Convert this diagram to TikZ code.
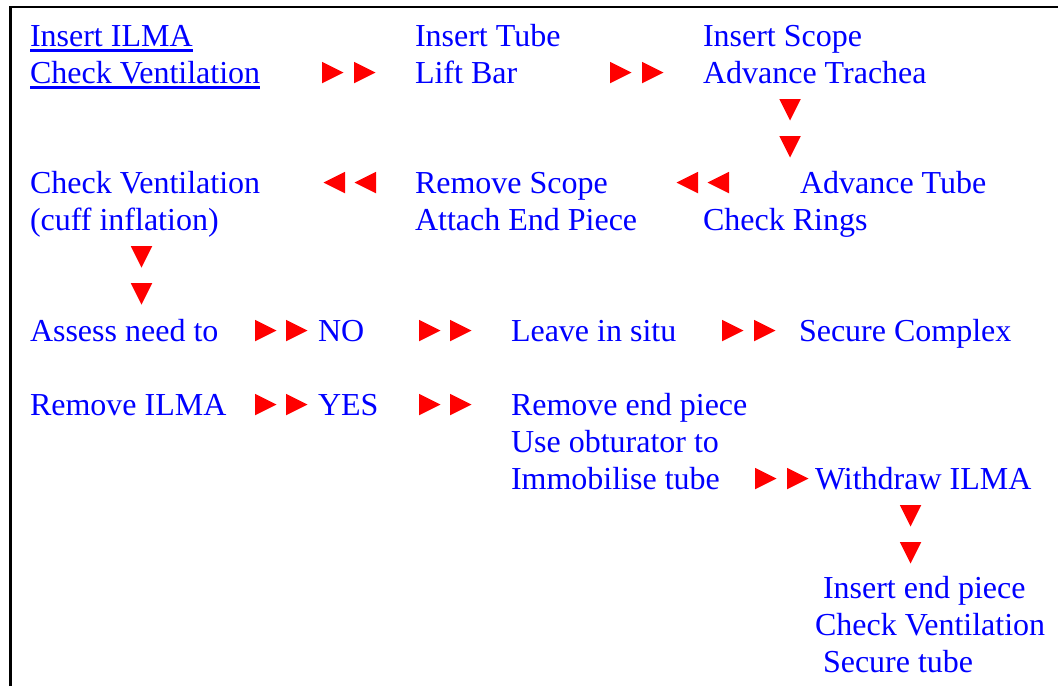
\documentclass[tikz,border=0pt]{standalone}
\usepackage{fontspec}
\setmainfont{Liberation Serif}
\usetikzlibrary{shapes.geometric}
\definecolor{txtblue}{RGB}{0,0,255}
\definecolor{arrred}{RGB}{255,0,0}
\newcommand{\undl}[1]{\setbox0\hbox{#1}\rlap{\rule[-5.6pt]{\wd0}{2.2pt}}\box0}
\tikzstyle{txt}=[anchor=base west,inner sep=0pt,outer sep=0pt,text=txtblue,align=left,font=\fontsize{32}{37}\selectfont]
\tikzstyle{tri}=[isosceles triangle,isosceles triangle stretches,fill=arrred,inner sep=0pt,outer sep=0pt,minimum width=21.5pt,minimum height=21.5pt,anchor=lower side]
\tikzstyle{rtri}=[tri]
\tikzstyle{ltri}=[tri,shape border rotate=180]
\tikzstyle{dtri}=[tri,shape border rotate=270]

\begin{document}
\begin{tikzpicture}[x=1pt,y=-1pt]
\useasboundingbox (0,0) rectangle (1058,686);
% frame
\draw[line width=2.3pt] (10.5,686) -- (10.5,7) -- (1058,7);
% steps (base = last line)
\node[txt] (ilma) at (30,83) {\undl{Insert ILMA}\\\undl{Check Ventilation}};
\node[txt] (tube) at (415,83) {Insert Tube\\Lift Bar};
\node[txt] (scope) at (703,83) {Insert Scope\\Advance Trachea};
\node[txt] (advtube) at (800,193) {Advance Tube};
\node[txt] (rings) at (703,230) {Check Rings};
\node[txt] (rmscope) at (415,230) {Remove Scope\\Attach End Piece};
\node[txt] (cuff) at (30,230) {Check Ventilation\\(cuff inflation)};
\node[txt] (assess) at (30,341) {Assess need to};
\node[txt] (no) at (318,341) {NO};
\node[txt] (situ) at (511,341) {Leave in situ};
\node[txt] (complex) at (799,341) {Secure Complex};
\node[txt] (rmilma) at (30,415) {Remove ILMA};
\node[txt] (yes) at (318,415) {YES};
\node[txt] (endpc) at (511,489) {Remove end piece\\Use obturator to\\Immobilise tube};
\node[txt] (withdraw) at (815,489) {Withdraw ILMA};
\node[txt] (fin1) at (823,598) {Insert end piece};
\node[txt] (fin2) at (815,635) {Check Ventilation};
\node[txt] (fin3) at (823,672) {Secure tube};
% arrows
\foreach \n/\x/\y in {r1/322/83, r2/354/83, r3/610/83, r4/642/83,
                      r5/255/341, r6/286/341, r7/419/341, r8/450/341, r9/722/341, r10/754/341,
                      r11/255/415, r12/286/415, r13/419/415, r14/450/415,
                      r15/755/489, r16/787/489}
    \node[rtri] (\n) at (\x,\y-10.5) {};
\foreach \n/\x/\y in {l1/345/193, l2/376/193, l3/698/193, l4/729/193}
    \node[ltri] (\n) at (\x,\y-10.5) {};
\foreach \n/\x/\y in {d1/790/120, d2/790/157, d3/141.5/267, d4/141.5/304, d5/910.5/526, d6/910.5/563}
    \node[dtri] (\n) at (\x,\y-21) {};
\end{tikzpicture}
\end{document}
